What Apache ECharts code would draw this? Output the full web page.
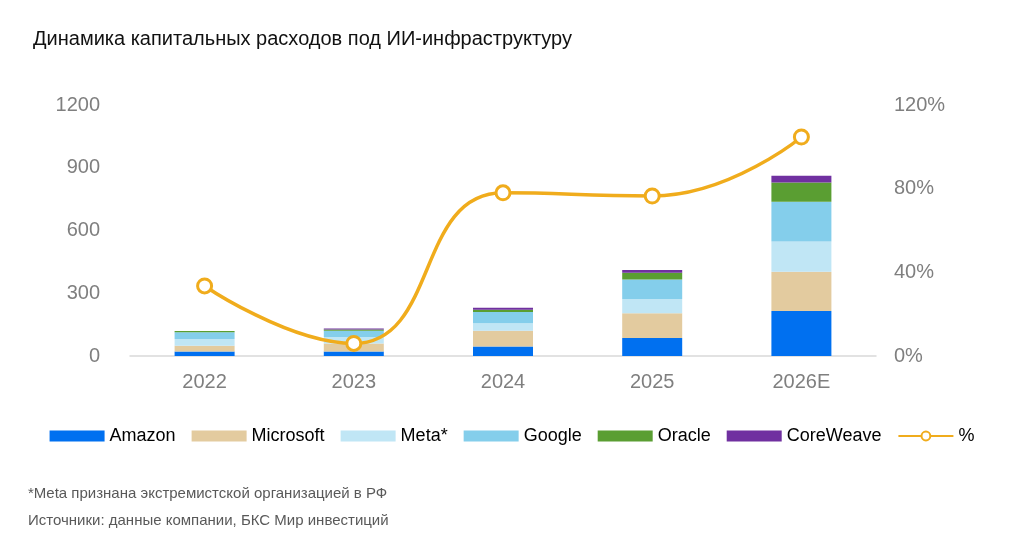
<!DOCTYPE html><html><head><meta charset="utf-8"><script src="https://cdn.jsdelivr.net/npm/echarts@6/dist/echarts.min.js"></script>
<style>body{margin:0;background:#fff}#c{width:1024px;height:538px}</style></head><body><div id="c"></div><script>
const categories=['2022','2023','2024','2025','2026E'];
const amazon=[22,22,45,86,215];
const microsoft=[27,38,76,118,188];
const meta=[32,31,35,68,145];
const google=[32,30,54,94,190];
const oracle=[7,6,11,32,91];
const coreweave=[0,5,10,13,33];
const pct=[33.5,6,78,76.5,104.7];
const names=['Amazon','Microsoft','Meta*','Google','Oracle','CoreWeave'];
const colors=['#0070F0','#E3CB9F','#C0E6F5','#84CEEB','#5A9E32','#7030A0'];
const data=[amazon,microsoft,meta,google,oracle,coreweave];
const lbl={color:'#7f7f7f',fontSize:20,fontFamily:'Liberation Sans'};
const series=data.map((d,i)=>({name:names[i],type:'bar',stack:'s',data:d,barWidth:60,itemStyle:{color:colors[i]}}));
series.push({name:'%',type:'line',yAxisIndex:1,data:pct,smooth:true,symbol:'circle',symbolSize:14,lineStyle:{color:'#F0AC1C',width:3.5},itemStyle:{color:'#fff',borderColor:'#F0AC1C',borderWidth:3}});
const chart=echarts.init(document.getElementById('c'));
chart.setOption({
title:{text:'Динамика капитальных расходов под ИИ-инфраструктуру',left:28,top:24,textStyle:{fontSize:20,fontWeight:'normal',color:'#111',fontFamily:'Liberation Sans'}},
grid:{left:130,right:148,top:105,bottom:182},
legend:{bottom:88,left:'center',itemWidth:55,itemHeight:11,itemGap:16,textStyle:{fontSize:18,color:'#000',fontFamily:'Liberation Sans'},
data:[...names.map(n=>({name:n,icon:'rect'})),{name:'%'}]},
xAxis:{type:'category',data:categories,axisTick:{show:false},axisLine:{lineStyle:{color:'#d9d9d9',width:1.5}},axisLabel:{...lbl,margin:16}},
yAxis:[{type:'value',min:0,max:1200,interval:300,splitLine:{show:false},axisLabel:{...lbl,margin:30,formatter:v=>String(v)}},
{type:'value',min:0,max:120,interval:40,splitLine:{show:false},axisLabel:{...lbl,formatter:'{value}%',margin:18}}],
graphic:[{type:'text',left:28,top:486,style:{text:'*Meta признана экстремистской организацией в РФ',fontSize:15,fill:'#595959',fontFamily:'Liberation Sans'}},
{type:'text',left:28,top:513,style:{text:'Источники: данные компании, БКС Мир инвестиций',fontSize:15,fill:'#595959',fontFamily:'Liberation Sans'}}],
series});
</script></body></html>
